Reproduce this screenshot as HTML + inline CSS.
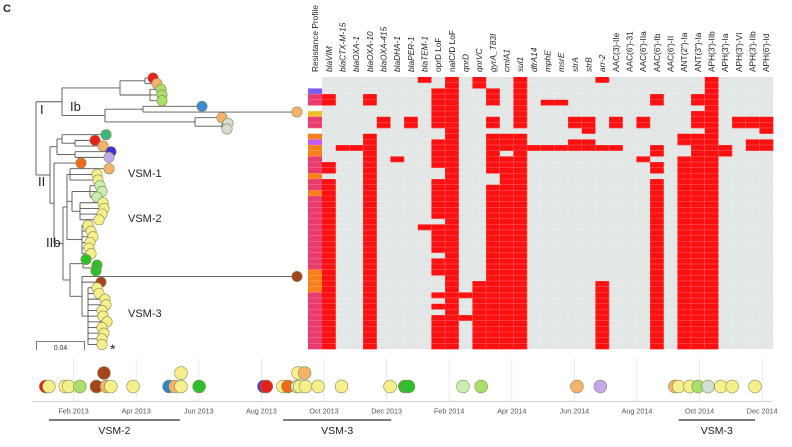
<!DOCTYPE html>
<html><head><meta charset="utf-8">
<style>
body{margin:0;background:#fff;}
svg{display:block;font-family:"Liberation Sans",sans-serif;}
</style></head>
<body>
<svg id="fig" width="792" height="447" viewBox="0 0 792 447">
<text x="3" y="12" font-size="11" font-weight="bold" fill="#222">C</text>
<g id="tree"></g>
<g id="heat"></g>
<g id="time"></g>
<g font-size="13" fill="#222">
<text x="40" y="114">I</text>
<text x="70" y="111">Ib</text>
<text x="38" y="186">II</text>
<text x="46" y="247">IIb</text>
<text x="128" y="177" font-size="11">VSM-1</text>
<text x="128" y="222" font-size="11">VSM-2</text>
<text x="128" y="317" font-size="11">VSM-3</text>
<text x="110" y="354" font-size="14">*</text>
</g>
<g>
<path d="M36.5,350 V341.5 H84.5 V350" fill="none" stroke="#555" stroke-width="0.8"/>
<text x="60.5" y="350" font-size="7" text-anchor="middle" fill="#333">0.04</text>
</g>
</svg>
<script>
const NS="http://www.w3.org/2000/svg";
function mk(tag,attrs,parent){const e=document.createElementNS(NS,tag);for(const k in attrs)e.setAttribute(k,attrs[k]);parent.appendChild(e);return e;}

/* ---------- heatmap data ---------- */
const genes=["blaVIM","blaCTX-M-15","blaOXA-1","blaOXA-10","blaOXA-415","blaDHA-1","blaPER-1","blaTEM-1","oprD LoF","nalC/D LoF","qnrD","qnrVC","gyrA_T83I","cmlA1","sul1","dfrA14","mphE","msrE","strA","strB","arr-2","AAC(3)-IIe","AAC(6')-31","AAC(6')-IIa","AAC(6')-Ib","AAC(6')-II","ANT(2\")-Ia","ANT(3\")-Ia","APH(3')-IIb","APH(3')-Ia","APH(3')-VI","APH(3')-IIb","APH(6')-Id"];
const italicGenes=[0,1,2,3,4,5,6,7,10,11,12,13,14,15,16,17,18,19,20];
const profileColors=["","","#7a5cf5","#e83c6c","#e83c6c","","#f0c02a","#e83c6c","#e83c6c","","#f7801a","#c25af0","#f7801a","#f7801a","#e83c6c","#e83c6c","#e83c6c","#f7801a","#e83c6c","#e83c6c","#f7801a","#e83c6c","#e83c6c","#e83c6c","#e83c6c","#e83c6c","#e83c6c","#e83c6c","#e83c6c","#e83c6c","#e83c6c","#e83c6c","#e83c6c","#e83c6c","#f7801a","#f7801a","#f7801a","#f7801a","#e83c6c","#e83c6c","#e83c6c","#e83c6c","#e83c6c","#e83c6c","#e83c6c","#e83c6c","#e83c6c","#e83c6c"];
const presentGenes=[
[7,9,11,14,20,28],
[9,11,14,28],
[8,9,12,14,28],
[0,3,8,9,12,14,24,27,28],
[0,3,8,9,12,14,16,17,24,27,28],
[8,9,14,28],
[8,9,14,27,28],
[4,6,8,9,12,14,18,19,21,23,27,28,30,31,32],
[4,6,8,9,12,14,18,19,21,23,27,28,30,31,32],
[9,19,28,32],
[3,9,12,13,14,26,27,28],
[3,8,9,12,13,14,18,19,26,27,28,31,32],
[1,2,3,8,9,12,13,14,15,16,17,18,19,20,21,24,27,28,29,31,32],
[3,8,9,12,14,24,27,28,29],
[3,5,8,9,12,13,14,23,26,27,28],
[0,3,8,9,12,13,14,24,26,27,28],
[0,3,9,12,13,14,24,26,27,28],
[3,9,13,14,26,27,28],
[0,3,8,9,13,14,24,26,27,28],
[0,3,8,9,12,13,14,24,26,27,28],
[0,3,8,9,12,13,14,24,26,27,28],
[0,3,8,9,12,13,14,24,26,27,28],
[0,3,8,9,12,13,14,24,26,27,28],
[0,3,8,9,12,13,14,24,26,27,28],
[0,3,8,9,12,13,14,24,26,27,28],
[0,3,9,12,13,14,24,26,27,28],
[0,3,7,8,9,12,13,14,24,26,27,28],
[0,3,8,9,12,13,14,24,26,27,28],
[0,3,8,9,12,13,14,24,26,27,28],
[0,3,8,9,12,13,14,24,26,27,28],
[0,3,8,9,12,13,14,24,26,27,28],
[0,3,9,12,13,14,24,26,27,28],
[0,3,8,9,12,13,14,24,26,27,28],
[0,3,8,9,12,13,14,24,26,27,28],
[0,3,8,9,12,13,14,24,26,27,28],
[0,3,9,12,13,14,24,26,27,28],
[0,3,9,11,12,13,14,20,24,26,27,28],
[0,3,9,11,12,13,14,20,24,26,27,28],
[0,3,8,9,10,11,12,13,14,20,24,26,27,28],
[0,3,9,11,12,13,14,20,24,26,27,28],
[0,3,8,9,11,12,13,14,20,24,26,27,28],
[0,3,9,11,12,13,14,20,24,26,27,28],
[0,3,8,9,10,11,12,13,14,20,24,26,27,28],
[0,3,8,9,11,12,13,14,20,24,26,27,28],
[0,3,8,9,11,12,13,14,20,24,26,27,28],
[0,3,8,9,11,12,13,14,20,24,26,27,28],
[0,3,8,9,11,12,13,14,20,24,26,27,28],
[0,3,8,9,11,12,13,14,20,24,26,27,28]
];

/* ---------- timeline data ---------- */
const tickLabels=["Feb 2013","Apr 2013","Jun 2013","Aug 2013","Oct 2013","Dec 2013","Feb 2014","Apr 2014","Jun 2014","Aug 2014","Oct 2014","Dec 2014"];
const tickMonths=[1,3,5,7,9,11,13,15,17,19,21,23];
const sampleMonths=[0.11,0.21,0.73,0.84,1.20,1.73,1.97,2.05,2.19,2.90,4.05,4.24,4.43,4.43,5.01,7.08,7.16,7.69,7.85,8.14,8.22,8.41,8.17,8.38,8.81,9.56,11.11,11.58,11.70,13.44,14.02,17.08,17.83,20.21,20.33,20.69,20.95,21.27,21.68,22.04,22.77];
const sampleStack=[0,0,0,0,0,0,1,0,0,0,0,0,0,1,0,0,0,0,0,0,0,0,1,1,0,0,0,0,0,0,0,0,0,0,0,0,0,0,0,0,0];
const sampleColors=["#e8201c","#f6f08a","#f6f08a","#f6f08a","#a8e06a","#a5431b","#a5431b","#f4b26a","#f6f08a","#f6f08a","#2a88c8","#f4b26a","#f6f08a","#f6f08a","#2fbf2a","#3b2fd0","#e8201c","#f6f08a","#f06a1e","#c8eeb0","#f6f08a","#f6f08a","#f6f08a","#f4b26a","#f6f08a","#f6f08a","#f6f08a","#2fbf2a","#2fbf2a","#c8eeb0","#a8e06a","#f4b26a","#c4a8ec","#f4b26a","#f6f08a","#f6f08a","#a8e06a","#d4dcd4","#f6f08a","#f6f08a","#f6f08a"];
const clusterNames=["VSM-2","VSM-3","VSM-3"];
const clusterStart=[0.21,7.69,20.33];
const clusterEnd=[4.40,11.15,22.77];

/* ---------- tree data ---------- */
const tipX=[153,157,161,162,162,202,297,222,228,227,106,95,103,111,109,81,109,97,98,100,102,97,103,104,102,99,88,91,93,90,89,91,86,97,96,297,101,97,99,105,106,102,103,107,102,104,102,102];
const tipColors=["#e8201c","#f4b26a","#a8e06a","#a8e06a","#a8e06a","#3a8ad0","#f4b26a","#f4b26a","#d4dcd4","#d4dcd4","#3cb87a","#e8201c","#f4b26a","#3b2fd0","#c4a8ec","#f06a1e","#f4b26a","#f6f08a","#f6f08a","#c8eeb0","#c8eeb0","#c8eeb0","#f6f08a","#f6f08a","#f6f08a","#f6f08a","#f6f08a","#f6f08a","#f6f08a","#f6f08a","#f6f08a","#f6f08a","#2fbf2a","#2fbf2a","#2fbf2a","#a5431b","#a5431b","#f6f08a","#f6f08a","#f6f08a","#f6f08a","#f6f08a","#f6f08a","#f6f08a","#f6f08a","#f6f08a","#f6f08a","#f6f08a"];
const treeSpec=[36,
  [62,[120,[145,0,1],[150,2,3,4]],[105,[143,5,6],[195,7,[222,8,9]]]],
  [50,[57,[62,10,[75,11,12]],[75,13,14]],
      [54,15,[63,[67,[70,16,17,18],[72,[90,19,20,21],[80,22,23,24,25]],[82,26,27,28,29,30,31]],
                [70,[83,32,[92,33,34]],[82,35,36,[88,37,38,39,40,41,42,43,44,45,46,47]]]]]]];

/* ---------- heatmap draw ---------- */
const hx0=322, cw=(773-322)/genes.length, hy0=77, rh=(349-77)/presentGenes.length;
const heat=document.getElementById('heat');
function colX(c){return hx0+c*cw;}
function rowY(r){return hy0+r*rh;}
mk('rect',{x:hx0,y:hy0,width:cw*genes.length,height:rh*presentGenes.length,fill:"#e2e6e4"},heat);
presentGenes.forEach((row,r)=>{
  row.forEach(c=>{
    const e=mk('rect',{x:colX(c),y:rowY(r),width:cw+0.3,height:rh+0.3,fill:"#fc1010"},heat);
    
    
  });
  if(profileColors[r]){
    const p=mk('rect',{x:308,y:rowY(r),width:14,height:rh+0.3,fill:profileColors[r]},heat);
    
    
  }
});
for(let c=1;c<genes.length;c++) mk('line',{x1:colX(c),x2:colX(c),y1:hy0,y2:hy0+rh*presentGenes.length,stroke:"#fff",'stroke-opacity':0.35,'stroke-width':0.5},heat);
for(let r=1;r<presentGenes.length;r++) mk('line',{x1:308,x2:hx0+cw*genes.length,y1:rowY(r),y2:rowY(r),stroke:"#fff",'stroke-opacity':0.35,'stroke-width':0.5},heat);
function header(txt,cx,italic){
  const t=mk('text',{transform:`translate(${cx+3},72) rotate(-90)`,'font-size':8.3,fill:"#222"},heat);
  if(italic)t.setAttribute('font-style','italic');
  t.textContent=txt;
  
  
}
header("Resistance Profile",315,false);
genes.forEach((g,c)=>header(g,colX(c)+cw/2,italicGenes.includes(c)));

/* ---------- tree draw ---------- */
const tree=document.getElementById('tree');
function tipY(i){return 78+i*5.67;}
function drawNode(n,parentX){
  if(typeof n==='number'){
    const y=tipY(n);
    mk('line',{x1:parentX,x2:tipX[n],y1:y,y2:y,stroke:"#555",'stroke-width':0.9},tree);
    return y;
  }
  const x=n[0];
  const ys=n.slice(1).map(ch=>drawNode(ch,x));
  const y1=Math.min(...ys),y2=Math.max(...ys);
  mk('line',{x1:x,x2:x,y1:y1,y2:y2,stroke:"#555",'stroke-width':0.9},tree);
  const ym=(y1+y2)/2;
  if(parentX!==null) mk('line',{x1:parentX,x2:x,y1:ym,y2:ym,stroke:"#555",'stroke-width':0.9},tree);
  return ym;
}
drawNode(treeSpec,null);
tipX.forEach((x,i)=>{
  const c=mk('circle',{cx:x,cy:tipY(i),r:5.2,fill:tipColors[i],stroke:"#8a8a5a",'stroke-width':0.6},tree);
  
  
});

/* ---------- timeline draw ---------- */
const tg=document.getElementById('time');
function tx(m){return 42.3+31.3*m;}
tickMonths.forEach((m,i)=>{
  mk('line',{x1:tx(m),x2:tx(m),y1:358,y2:401.5,stroke:"#e4e4e4",'stroke-width':0.8},tg);
  const t=mk('text',{x:tx(m),y:413.5,'font-size':7.2,'text-anchor':'middle',fill:"#555"},tg);
  t.textContent=tickLabels[i];
  
  
});
mk('line',{x1:32,x2:772,y1:401.5,y2:401.5,stroke:"#d0d0d0",'stroke-width':0.9},tg);
sampleMonths.forEach((m,i)=>{
  const c=mk('circle',{cx:tx(m),cy:sampleStack[i]?373:386.5,r:6.4,fill:sampleColors[i],stroke:"#8a8a5a",'stroke-width':0.6},tg);
  
  
});
clusterNames.forEach((n,i)=>{
  mk('line',{x1:tx(clusterStart[i]),x2:tx(clusterEnd[i]),y1:420,y2:420,stroke:"#333",'stroke-width':1.3},tg);
  const t=mk('text',{x:(tx(clusterStart[i])+tx(clusterEnd[i]))/2,y:434,'font-size':10.5,'text-anchor':'middle',fill:"#222"},tg);
  t.textContent=n;
  
  
});
</script>
</body></html>
